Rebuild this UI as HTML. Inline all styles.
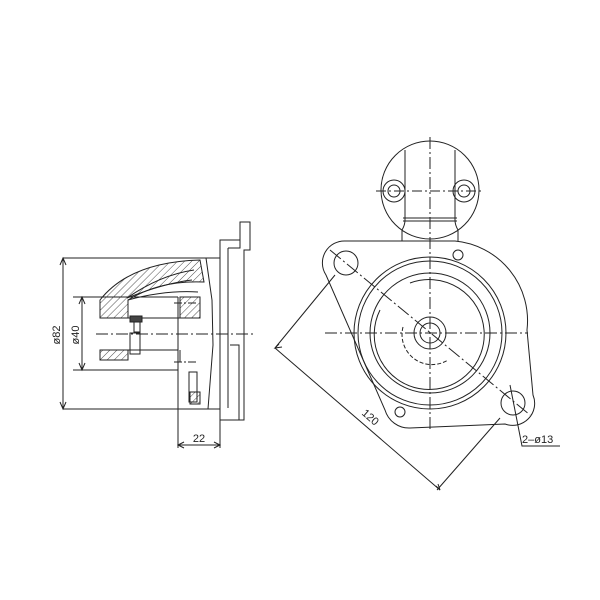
<!DOCTYPE html>
<html><head><style>body{margin:0;background:#fff}svg{display:block}</style></head><body>
<svg width="600" height="600" viewBox="0 0 600 600" xmlns="http://www.w3.org/2000/svg" fill="none" stroke="#222" stroke-width="1" font-family="Liberation Sans, sans-serif">
<defs><pattern id="h" width="5" height="5" patternUnits="userSpaceOnUse" patternTransform="rotate(45)"><line x1="0" y1="0" x2="0" y2="5" stroke="#222" stroke-width="0.8"/></pattern></defs>
<!-- LEFT VIEW -->
<g>
<path d="M240 222 H250 V250 H244 V420 H220 V240 H240 Z"/>
<path d="M228 248 V408 M228 248 H240 V222"/>
<path d="M230 345 H239 V420"/>
<path d="M206 258 H220 M202 409 H220"/>
<path d="M206 258 L212 300 L213 345 L208 409"/>
<path d="M127 298 Q160 275 194 270"/>
<path d="M127 298 Q165 283 192 280" />
<path d="M128 300 Q165 290 198 292"/>
<path d="M100 300 Q130 262 200 260 L204 282 Q160 280 128 300 L128 318 H100 Z" fill="url(#h)"/>
<path d="M180 297 H200 V318 H180 Z" fill="url(#h)"/>
<path d="M100 350 H128 V360 H100 Z" fill="url(#h)"/>
<path d="M100 318 H180 M100 350 H178"/>
<rect x="130" y="316" width="12" height="6" fill="#444"/>
<path d="M134 322 V332 H140 V322 M130 333 H140 V354 H130 Z"/>
<path d="M178 297 V410 M180 350 V362"/>
<rect x="189" y="372" width="8" height="30"/><rect x="190" y="392" width="10" height="12" fill="url(#h)"/>
<path d="M63 258 H206 M63 409 H208 M73 297 H178 M73 370 H178"/>
<path d="M63 258 V409 M82 297 V370"/>
<path d="M60 265 L63 258 L66 265 M60 402 L63 409 L66 402 M79 304 L82 297 L85 304 M79 363 L82 370 L85 363"/>
<path d="M96 334 H255" stroke-dasharray="12 3 2 3"/>
<path d="M174 303 H198 M174 362 H198" stroke-dasharray="8 2 2 2"/>
<path d="M178 410 V448 M220 420 V448 M178 445 H220 M184 442 L178 445 L184 448 M214 442 L220 445 L214 448"/>
<text x="199" y="442" font-size="11" fill="#222" stroke="none" text-anchor="middle">22</text>
<text x="60" y="335" font-size="11" fill="#222" stroke="none" text-anchor="middle" transform="rotate(-90 60 335)">ø82</text>
<text x="79" y="335" font-size="11" fill="#222" stroke="none" text-anchor="middle" transform="rotate(-90 79 335)">ø40</text>
</g>
<!-- RIGHT VIEW -->
<g>
<circle cx="430" cy="190" r="49"/>
<path d="M405 150 V220 Q405 225 402 230 V241 M455 150 V220 Q455 225 458 230 V241 M403 218 H457 M403 221 H457"/>
<circle cx="394" cy="191" r="11"/><circle cx="394" cy="191" r="6"/>
<circle cx="464" cy="191" r="11"/><circle cx="464" cy="191" r="6"/>
<path d="M376 191 H484" stroke-dasharray="10 3 2 3"/>
<path d="M346 241 H455 A80 80 0 0 1 527 330 L533 395 A22 22 0 0 1 505 424 L410 428 A25 25 0 0 1 385 410 L326 275 A22 22 0 0 1 346 241 Z"/>
<circle cx="346" cy="263" r="12"/>
<circle cx="513" cy="403" r="12"/>
<circle cx="430" cy="333" r="76"/>
<circle cx="430" cy="333" r="72"/>
<circle cx="430" cy="333" r="60"/>
<path d="M380 310 A55 55 0 1 0 410 283"/>
<path d="M403 327 A30 30 0 0 0 448 360" stroke-dasharray="4 2"/>
<circle cx="430" cy="333" r="16"/><circle cx="430" cy="333" r="10"/>
<circle cx="458" cy="255" r="5"/><circle cx="400" cy="412" r="5"/>
<path d="M430 137 V430 M325 333 H528" stroke-dasharray="12 3 2 3"/>
<path d="M330 250 L530 415" stroke-dasharray="14 3 2 3"/>
<path d="M335 275 L275 348 M500 418 L437 490 M275 348 L440 490"/>
<path d="M279 344 L275 348 L282 347 M436 486 L440 490 L438 484"/>
<text x="368" y="420" font-size="11" fill="#222" stroke="none" text-anchor="middle" transform="rotate(41 368 420)">120</text>
<path d="M510 385 L522 446 H560"/>
<text x="522" y="443" font-size="11" fill="#222" stroke="none">2–ø13</text>
</g>
</svg>
</body></html>
